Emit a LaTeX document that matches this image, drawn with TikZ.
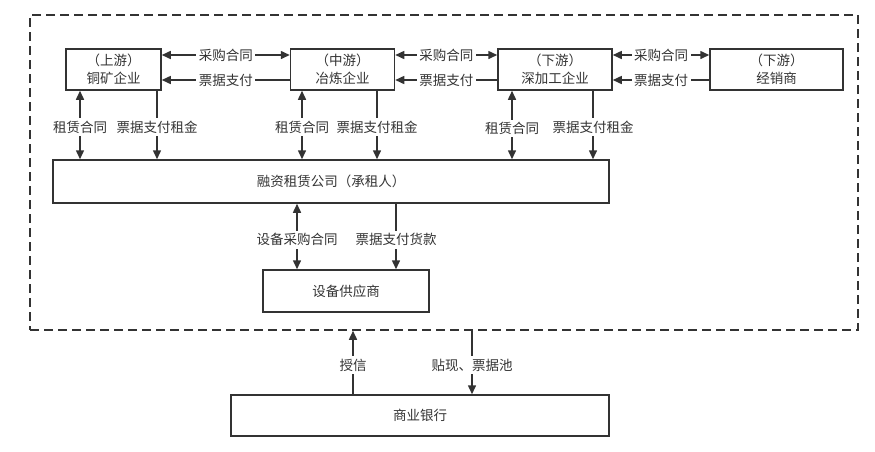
\documentclass[tikz,border=0pt]{standalone}
\usepackage{fontspec}
\setmainfont{Noto Sans CJK SC}
\usepackage{tikz}
\usetikzlibrary{arrows.meta,positioning,calc}
\definecolor{linec}{HTML}{333333}

\begin{document}
\begin{tikzpicture}[x=1pt,y=-1pt,
		box/.style={draw=linec, line width=1.5pt, align=center, text=linec, inner sep=0pt, font=\fontsize{13.5}{17.5}\selectfont},
		conn/.style={draw=linec, line width=1.5pt, -{Triangle[length=9pt,width=8pt]}},
		both/.style={conn, {Triangle[length=9pt,width=8pt]}-{Triangle[length=9pt,width=8pt]}},
		tag/.style={fill=white, text=linec, inner sep=2.5pt, font=\fontsize{13.5}{15}\selectfont}]
			\useasboundingbox (0,0) rectangle (875,451);
			% outer zone
			\node at (444,172.5) [draw=linec, line width=1.5pt, dash pattern=on 9pt off 5pt, minimum width=828pt, minimum height=315pt] (zone) {};
			% firms
			\node at (113.5,69.5) [box, minimum width=95pt, minimum height=41pt] (up) {（上游）\\铜矿企业};
			\node at (342.5,69.5) [box, minimum width=104pt, minimum height=41pt] (mid) {（中游）\\冶炼企业};
			\node at (555,69.5) [box, minimum width=114pt, minimum height=41pt] (down) {（下游）\\深加工企业};
			\node at (776.5,69.5) [box, minimum width=133pt, minimum height=41pt] (dealer) {（下游）\\经销商};
			\node at (331,181.5) [box, minimum width=556pt, minimum height=43pt] (lease) {融资租赁公司（承租人）};
			\node at (346,291) [box, minimum width=166pt, minimum height=42pt] (supplier) {设备供应商};
			\node at (420,415.5) [box, minimum width=378pt, minimum height=41pt] (bank) {商业银行};
			% levels and columns
			\coordinate (buy) at (0,55);
			\coordinate (pay) at (0,80);
			\coordinate (c1) at (80,0);
			\coordinate (p1) at (157,0);
			\coordinate (c2) at (302,0);
			\coordinate (p2) at (377,0);
			\coordinate (c3) at (512,0);
			\coordinate (p3) at (593,0);
			\coordinate (cs) at (297,0);
			\coordinate (ps) at (396,0);
			\coordinate (credit) at (353,0);
			\coordinate (disc) at (472,0);
			% trade between firms
			\draw[both] (up.east |- buy) -- node[tag] {采购合同} (mid.west |- buy);
			\draw[conn] (mid.west |- pay) -- node[tag] {票据支付} (up.east |- pay);
			\draw[both] (mid.east |- buy) -- node[tag] {采购合同} (down.west |- buy);
			\draw[conn] (down.west |- pay) -- node[tag] {票据支付} (mid.east |- pay);
			\draw[both] (down.east |- buy) -- node[tag] {采购合同} (dealer.west |- buy);
			\draw[conn] (dealer.west |- pay) -- node[tag] {票据支付} (down.east |- pay);
			% leasing
			\draw[both] (up.south -| c1) -- node[tag, pos=0.53] {租赁合同} (lease.north -| c1);
			\draw[conn] (up.south -| p1) -- node[tag, pos=0.53] {票据支付租金} (lease.north -| p1);
			\draw[both] (mid.south -| c2) -- node[tag, pos=0.53] {租赁合同} (lease.north -| c2);
			\draw[conn] (mid.south -| p2) -- node[tag, pos=0.53] {票据支付租金} (lease.north -| p2);
			\draw[both] (down.south -| c3) -- node[tag, pos=0.55] {租赁合同} (lease.north -| c3);
			\draw[conn] (down.south -| p3) -- node[tag, pos=0.53] {票据支付租金} (lease.north -| p3);
			% equipment
			\draw[both] (lease.south -| cs) -- node[tag, pos=0.55] {设备采购合同} (supplier.north -| cs);
			\draw[conn] (lease.south -| ps) -- node[tag, pos=0.55] {票据支付货款} (supplier.north -| ps);
			% bank
			\draw[conn] (bank.north -| credit) -- node[tag, pos=0.46] {授信} (zone.south -| credit);
			\draw[conn] (zone.south -| disc) -- node[tag, pos=0.54] {贴现、票据池} (bank.north -| disc);
		\end{tikzpicture}
\end{document}
